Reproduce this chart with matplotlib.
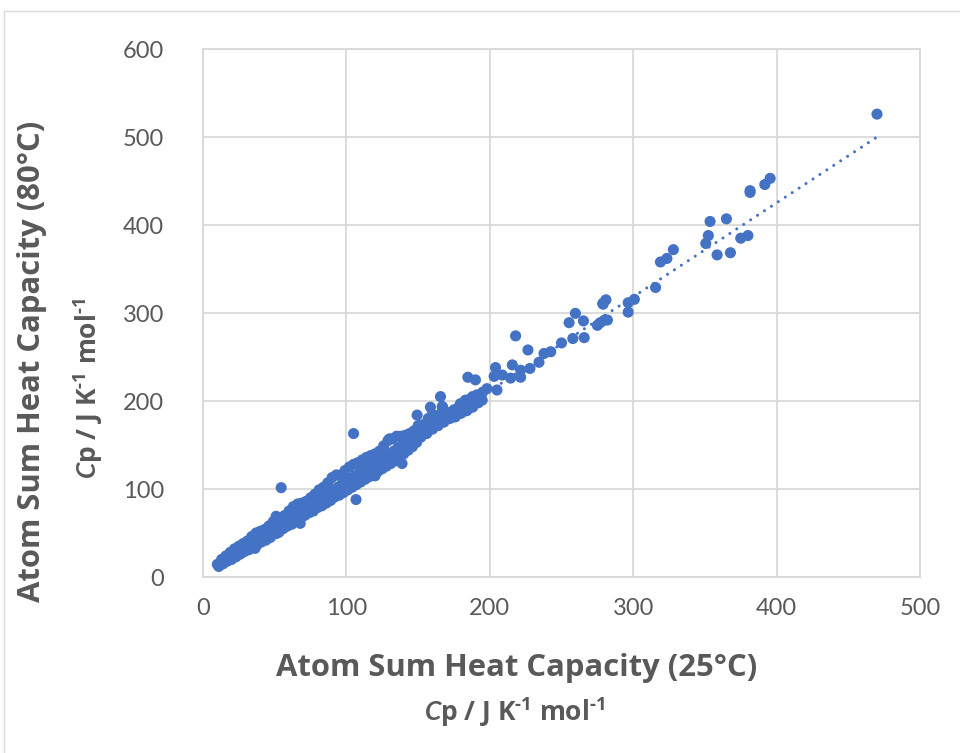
import matplotlib
matplotlib.use('Agg')
import matplotlib.pyplot as plt
import numpy as np
from matplotlib.patches import Rectangle

plt.rcParams['font.family'] = ['Lato', 'DejaVu Sans']
plt.rcParams['mathtext.fontset'] = 'custom'
plt.rcParams['mathtext.rm'] = 'Open Sans:bold'
plt.rcParams['mathtext.it'] = 'Lato:bold:italic'
plt.rcParams['mathtext.bf'] = 'Open Sans:bold'

# atom-sum heat capacities, 25 C (x) vs 80 C (y), J K-1 mol-1
# dense band, lower side
band_low_x = [11, 14, 17, 20, 23, 26, 29, 32, 35, 38, 41, 44, 47, 50, 53, 56, 59, 62, 65, 68,
              71, 74, 77, 80, 83, 86, 89, 92, 95, 98, 101, 104, 107, 110, 113, 116, 119, 122, 125, 128,
              131, 134, 137, 140, 143, 146, 149, 152, 156, 160, 164, 168, 172, 176, 180, 184, 188, 192]
band_low_y = [12, 15, 18, 20, 23, 26, 29, 31, 34, 37, 40, 42, 45, 49, 51, 55, 58, 60, 64, 67,
              70, 73, 75, 79, 81, 84, 87, 91, 93, 96, 99, 102, 105, 108, 111, 114, 117, 120, 123, 126,
              129, 132, 136, 140, 144, 148, 153, 159, 163, 168, 172, 176, 180, 182, 186, 189, 193, 198]
# dense band, middle
band_mid_x = [15, 18, 21, 24, 27, 30, 33, 36, 39, 42, 45, 48, 52, 55, 58, 61, 64, 67, 70, 73,
              76, 79, 82, 85, 88, 91, 94, 97, 100, 103, 106, 109, 112, 115, 118, 121, 124, 127, 130, 133,
              136, 139, 142, 145, 148, 151, 155, 158, 162, 166, 170, 174, 178, 182, 186, 190]
band_mid_y = [18, 22, 25, 28, 31, 34, 38, 41, 44, 47, 50, 53, 57, 60, 63, 66, 70, 73, 76, 79,
              82, 85, 89, 92, 96, 99, 102, 106, 109, 112, 115, 118, 121, 124, 127, 130, 133, 136, 140, 143,
              147, 150, 152, 155, 159, 163, 167, 172, 177, 181, 184, 186, 190, 194, 197, 202]
# dense band, upper side
band_up_x = [13, 16, 19, 22, 25, 28, 31, 34, 37, 40, 43, 46, 49, 51, 54, 57, 60, 63, 66, 69,
             72, 75, 78, 81, 84, 87, 90, 93, 96, 99, 102, 105, 108, 111, 114, 117, 120, 123, 126, 129,
             132, 135, 138, 141, 144, 147, 150, 153, 157, 160, 163, 167, 171, 175, 179, 183, 187, 191, 195]
band_up_y = [20, 24, 28, 32, 35, 38, 41, 46, 50, 52, 54, 58, 63, 69, 67, 70, 75, 80, 83, 84,
             86, 90, 94, 99, 102, 107, 113, 116, 116, 121, 125, 128, 130, 133, 136, 138, 140, 143, 149, 155,
             157, 160, 160, 161, 163, 166, 172, 173, 180, 185, 183, 189, 187, 190, 195, 198, 203, 207, 210]
# scattered points off the band and at high heat capacity
spread_x = [10, 36.3, 51.5, 67.8, 120, 130, 54.5, 105, 106.7, 138.8, 149.3, 158.6, 166.8, 179.6, 188,
            165.6, 167, 170, 175, 179.6, 183, 188, 194.7, 198, 205, 184.7, 190, 203, 208.7, 214.5,
            221.5, 204, 215.7, 221.5, 228, 234.3, 226.6, 218, 237.8, 242.5, 250, 257.9, 265.8, 255.3, 259.7,
            265.3, 275, 282, 278.8, 281, 279, 280, 277, 296.5, 300.8, 296.5, 315.6, 319, 323.5,
            328, 350.6, 352.4, 353.6, 358.5, 365, 367.8, 375, 380, 381.5, 381.5, 391.8, 395.5, 470]
spread_y = [14.4, 32.6, 49.6, 61, 115, 157, 101.5, 163, 88, 129, 184, 193, 193.6, 197, 193.6,
            205, 193.5, 180, 182, 190, 201, 205, 201, 214, 212.5, 227, 224, 228, 229.5, 226,
            227, 238, 241, 235, 237, 244, 258, 274, 254, 256, 266, 271, 272, 289, 299.6,
            291, 286, 292, 311, 315, 310, 292, 289, 311.7, 315.5, 301, 329, 358, 362,
            372, 379, 388, 404, 366, 407, 368.5, 385, 388, 439, 437, 446, 453, 526]

# linear trendline
trend_slope = 1.068
trend_intercept = -2.0

x_ticks = [0, 100, 200, 300, 400, 500]
y_ticks = [0, 100, 200, 300, 400, 500, 600]

blue = '#4472C4'
grid_grey = '#D9D9D9'
text_grey = '#595959'
title_font = ['Open Sans', 'DejaVu Sans']

x_all = np.array(band_low_x + band_mid_x + band_up_x + spread_x, dtype=float)
y_all = np.array(band_low_y + band_mid_y + band_up_y + spread_y, dtype=float)

fig = plt.figure(figsize=(9.6, 7.53), dpi=100)
fig.patches.append(Rectangle((4 / 960, -0.05), 1.2, 1.05 - 11 / 753, transform=fig.transFigure,
                             facecolor='none', edgecolor=grid_grey, linewidth=1.0))
ax = fig.add_axes([203 / 960, 1 - 577 / 753, 717 / 960, 528 / 753])

ax.scatter(x_all, y_all, s=64, color=blue, edgecolors='none', zorder=3)
tx = np.array([x_all.min(), x_all.max()])
ax.plot(tx, trend_slope * tx + trend_intercept, color=blue, linewidth=2.2,
        linestyle=(0, (0.01, 2.7)), dash_capstyle='round', zorder=4)

ax.set_xlim(0, 500)
ax.set_ylim(0, 600)
ax.set_xticks(x_ticks)
ax.set_yticks(y_ticks)
ax.grid(True, color=grid_grey, linewidth=1.3, zorder=0)
ax.set_axisbelow(True)
for s in ax.spines.values():
    s.set_color(grid_grey)
    s.set_linewidth(1.3)
ax.tick_params(length=0, labelsize=17, labelcolor=text_grey)
ax.tick_params(axis='y', pad=28)
ax.tick_params(axis='x', pad=15)

unit_label = r'$\mathit{C}$p / J K$^{\text{-}1}$ mol$^{\text{-}1}$'
fig.text(517 / 960, 1 - 668 / 753, 'Atom Sum Heat Capacity (25°C)', ha='center', va='center',
         fontsize=22.3, fontweight='bold', color=text_grey, family=title_font)
fig.text(515 / 960, 1 - 712 / 753, unit_label, ha='center', va='center',
         fontsize=19, fontweight='bold', color=text_grey, family=title_font)
fig.text(32 / 960, 1 - 361 / 753, 'Atom Sum Heat Capacity (80°C)', ha='center', va='center',
         rotation=90, fontsize=22.3, fontweight='bold', color=text_grey, family=title_font)
fig.text(88 / 960, 1 - 388 / 753, unit_label, ha='center', va='center',
         rotation=90, fontsize=19, fontweight='bold', color=text_grey, family=title_font)

fig.savefig('out.png', dpi=100)
